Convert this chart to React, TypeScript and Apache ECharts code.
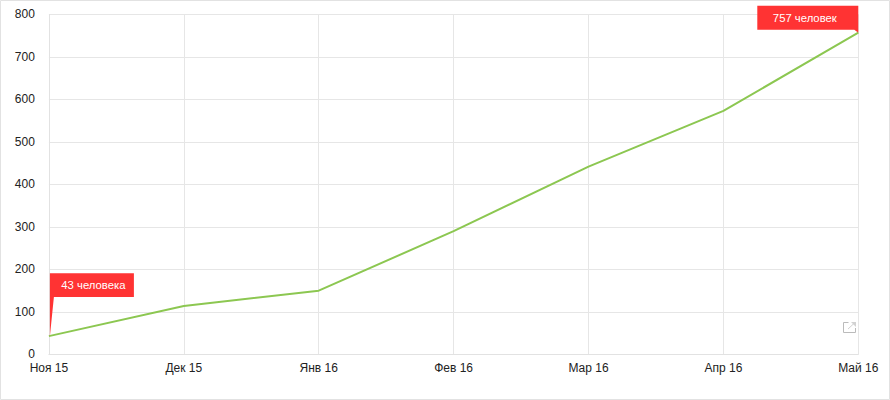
import React, { useEffect, useRef } from "react";
import * as echarts from "echarts";

const categories = ["Ноя 15", "Дек 15", "Янв 16", "Фев 16", "Мар 16", "Апр 16", "Май 16"];
const members = [43, 114, 150, 290, 442, 573, 757];
const firstNote = "43 человека";
const lastNote = "757 человек";

const FONT = '"Liberation Sans", Arial, sans-serif';

export default function App() {
  const ref = useRef<HTMLDivElement>(null);
  useEffect(() => {
    document.body.style.margin = "0";
    const chart = echarts.init(ref.current!, undefined, { renderer: "svg" });
    chart.setOption({
      animation: false,
      backgroundColor: "#fff",
      grid: { left: 48.9, right: 31.7, top: 14.4, bottom: 45.6, containLabel: false },
      xAxis: {
        type: "category",
        data: categories,
        boundaryGap: false,
        axisLine: { show: true, lineStyle: { color: "#e2e2e2", width: 1 } },
        axisTick: { show: false },
        axisLabel: { color: "#222", fontFamily: FONT, fontSize: 12, margin: 8, hideOverlap: false, interval: 0, showMinLabel: true, showMaxLabel: true, alignMinLabel: "center", alignMaxLabel: "center" },
        splitLine: { show: true, lineStyle: { color: "#e6e6e6", width: 1 } },
      },
      yAxis: {
        type: "value",
        min: 0,
        max: 800,
        interval: 100,
        axisLine: { show: true, lineStyle: { color: "#e2e2e2", width: 1 } },
        axisTick: { show: false },
        axisLabel: { color: "#222", fontFamily: FONT, fontSize: 12, margin: 14 },
        splitLine: { show: true, lineStyle: { color: "#e6e6e6", width: 1 } },
      },
      series: [
        {
          type: "line",
          data: members,
          showSymbol: false,
          symbol: "none",
          silent: true,
          lineStyle: { color: "#8cc751", width: 2 },
          markPoint: {
            silent: true,
            data: [
              {
                coord: [categories[0], members[0]],
                symbol: "path://M0 0H84V24H4L0 63Z",
                symbolKeepAspect: false,
                symbolSize: [84, 63],
                symbolOffset: [43, -31.5],
                itemStyle: { color: "#ff3333" },
                label: { show: true, position: "insideTop", distance: 0, offset: [1.5, 6], formatter: firstNote, color: "#fff", fontFamily: FONT, fontSize: 11.3, lineHeight: 12 },
              },
              {
                coord: [categories[6], members[6]],
                symbol: "path://M0 0H101V27L97 24H0Z",
                symbolKeepAspect: false,
                symbolSize: [101, 27],
                symbolOffset: [-50.5, -13.5],
                itemStyle: { color: "#ff3333" },
                label: { show: true, position: "insideTop", distance: 0, offset: [-3, 6], formatter: lastNote, color: "#fff", fontFamily: FONT, fontSize: 11.3, lineHeight: 12 },
              },
            ],
          },
        },
      ],
      graphic: [
        { type: "rect", silent: true, shape: { x: 0.5, y: 0.5, width: 889, height: 399 }, style: { fill: "none", stroke: "#e2e2e2", lineWidth: 1 } },
        { type: "polyline", silent: true, shape: { points: [[848.5, 322.5], [843.5, 322.5], [843.5, 332.5], [855.5, 332.5], [855.5, 328]] }, style: { fill: "none", stroke: "#bbbbbb", lineWidth: 1 } },
        { type: "line", silent: true, shape: { x1: 848, y1: 329, x2: 855, y2: 322.5 }, style: { stroke: "#d2d2d2", lineWidth: 1 } },
        { type: "polygon", silent: true, shape: { points: [[851, 322], [856, 322], [856, 327]] }, style: { fill: "#d2d2d2" } },
      ],
    });
    return () => chart.dispose();
  }, []);
  return <div ref={ref} style={{ width: 890, height: 400 }} />;
}
